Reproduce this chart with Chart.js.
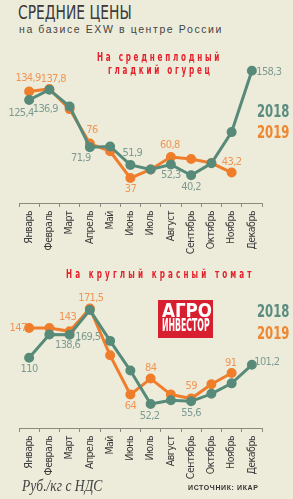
<!DOCTYPE html>
<html>
<head>
<meta charset="utf-8">
<script src="https://cdn.jsdelivr.net/npm/chart.js@4.4.0/dist/chart.umd.min.js"></script>
<style>
  body { margin: 0; background: #edecda; }
  .wrap { position: relative; width: 293px; height: 499px; overflow: hidden; background: #edecda; font-family: "DejaVu Sans Condensed", sans-serif; }
  canvas { position: absolute; left: 0; }
  .t { position: absolute; white-space: nowrap; z-index: 2; transform-origin: 0 0; }
  .title { left: 18px; top: 1px; font-size: 19px; color: #3a3a3a; transform: scaleX(0.81); }
  .sub { left: 19px; top: 23px; font-family: "Liberation Sans", sans-serif; font-size: 10.5px; letter-spacing: 1.6px; color: #444; }
  .red { font-family: "DejaVu Sans Condensed", sans-serif; font-weight: bold; color: #e4212b; font-size: 13px; letter-spacing: 4.4px; line-height: 13px; transform: scaleX(0.62); }
  .yr { font-family: "DejaVu Sans Condensed", sans-serif; font-weight: bold; font-size: 18px; transform: scaleX(0.72); }
  .g { color: #5a8c7f; }
  .o { color: #ef8630; }
  .logo { position: absolute; left: 158px; top: 300px; width: 55px; height: 38px; background: #d81f30; color: #fff; z-index: 2; overflow: hidden; }
  .logo div { position: absolute; white-space: nowrap; transform-origin: 0 0; font-family: "DejaVu Sans Condensed", sans-serif; font-weight: bold; }
  .logo .a { left: 4px; top: -2px; font-size: 20px; transform: scaleX(0.93); }
  .logo .b { left: 4px; top: 15px; font-size: 17px; transform: scaleX(0.51); }
  .unit { left: 22px; top: 477px; font-family: "Liberation Serif", serif; font-style: italic; font-size: 16px; color: #444; transform: scaleX(0.85); }
  .src { left: 188px; top: 484px; font-family: "Liberation Sans", sans-serif; font-weight: bold; font-size: 7px; letter-spacing: 0.6px; color: #333; }
</style>
</head>
<body>
<div class="wrap">
  <div class="t title">СРЕДНИЕ ЦЕНЫ</div>
  <div class="t sub">на базисе EXW в центре России</div>
  <div class="t red" style="left:97px; top:50px;">На среднеплодный</div>
  <div class="t red" style="left:108px; top:63px;">гладкий огурец</div>
  <div class="t yr g" style="left:257px; top:100px;">2018</div>
  <div class="t yr o" style="left:257px; top:121px;">2019</div>
  <div class="t red" style="left:66px; top:267px; letter-spacing:5px;">На круглый красный томат</div>
  <div class="logo"><div class="a">АГРО</div><div class="b">ИНВЕСТОР</div></div>
  <div class="t yr g" style="left:257px; top:300px;">2018</div>
  <div class="t yr o" style="left:257px; top:322px;">2019</div>
  <div class="t unit">Руб./кг с НДС</div>
  <div class="t src">ИСТОЧНИК: ИКАР</div>
  <canvas id="cucumberChart" width="293" height="205" style="top:50px"></canvas>
  <canvas id="tomatoChart" width="293" height="200" style="top:280px"></canvas>
</div>
<script>
// Months
const months = ['Январь', 'Февраль', 'Март', 'Апрель', 'Май', 'Июнь', 'Июль', 'Август', 'Сентябрь', 'Октябрь', 'Ноябрь', 'Декабрь'];

// Cucumber prices, rub/kg
const cucumber2018 = [125.4, 136.9, 118, 71.9, 72.7, 51.9, 46.7, 52.3, 40.2, 53.7, 89, 158.3];
const cucumber2019 = [134.9, 137.8, 115, 76, 67.3, 37, 46.7, 60.8, 58.6, 54, 43.2, null];
const cucumberShown2018 = [0, 1, 3, 5, 7, 8, 11];
const cucumberShown2019 = [0, 1, 3, 5, 7, 10];

// Tomato prices, rub/kg
const tomato2018 = [110, 139, 138.6, 169.5, 131, 94, 52.2, 57, 55.6, 65, 78, 101.2];
const tomato2019 = [147, 147, 143, 171.5, 113, 64, 84, 64, 59, 77, 91, null];
const tomatoShown2018 = [0, 2, 3, 6, 8, 11];
const tomatoShown2019 = [0, 2, 3, 5, 6, 8, 10];

// label offsets from the point (dx, dy)
const cucumberOffsets2018 = [[-8, 13], [-4, 19], [-9, 11], [2, -12], [0, 11], [0, 12], [17, 1]];
const cucumberOffsets2019 = [[-1, -13], [4, -10], [2, -13], [0, 11], [-1, -12], [0, -10]];
const tomatoOffsets2018 = [[0, 11], [-2, 10], [-2, 27], [-1, 12], [0, 12], [15, -3]];
const tomatoOffsets2019 = [[-11, 0], [-2, -14], [1, -10], [0, 12], [0, -10], [0, -12], [-1, -10]];

const green = '#578a79';
const orange = '#f07d2b';
const greenText = '#7d9b93';
const orangeText = '#f09555';
const font = '"DejaVu Sans Condensed", sans-serif';

function fmt(v) {
    return String(v).replace('.', ',');
}

// tighter letters for all canvas text
const narrowText = {
    id: 'narrowText',
    beforeDraw(chart) {
        chart.ctx.letterSpacing = '-0.5px';
    }
};

// draws the value labels next to chosen points
const valueLabels = {
    id: 'valueLabels',
    afterDatasetsDraw(chart) {
        const ctx = chart.ctx;
        ctx.save();
        ctx.font = '11px ' + font;
        ctx.letterSpacing = '-0.6px';
        ctx.textAlign = 'center';
        ctx.textBaseline = 'middle';
        chart.data.datasets.forEach((ds, di) => {
            const meta = chart.getDatasetMeta(di);
            ctx.fillStyle = ds.labelColor;
            ds.shown.forEach((idx, k) => {
                const pt = meta.data[idx];
                const off = ds.offsets[k];
                ctx.fillText(fmt(ds.data[idx]), pt.x + off[0], pt.y + off[1]);
            });
        });
        ctx.restore();
    }
};

function series(data, color, textColor, shown, offsets) {
    return {
        data: data,
        borderColor: color,
        backgroundColor: color,
        borderWidth: 3,
        pointRadius: 3.5,
        pointHoverRadius: 3.5,
        tension: 0,
        clip: false,
        labelColor: textColor,
        shown: shown,
        offsets: offsets
    };
}

function makeChart(id, d2018, d2019, s2018, s2019, o2018, o2019, yMin, yMax) {
    return new Chart(document.getElementById(id), {
        type: 'line',
        data: {
            labels: months,
            datasets: [
                series(d2018, green, greenText, s2018, o2018),
                series(d2019, orange, orangeText, s2019, o2019)
            ]
        },
        options: {
            responsive: false,
            animation: false,
            events: [],
            layout: { padding: { left: 19, right: 31, top: 0, bottom: 0 } },
            plugins: { legend: { display: false }, tooltip: { enabled: false } },
            scales: {
                y: { display: false, min: yMin, max: yMax },
                x: {
                    offset: true,
                    afterFit(scale) { scale.height = 52; },
                    border: { display: true, color: '#8a8a80', width: 1 },
                    grid: { offset: true, drawOnChartArea: false, drawTicks: true, tickLength: 4, color: '#8a8a80' },
                    ticks: {
                        minRotation: 90,
                        maxRotation: 90,
                        autoSkip: false,
                        padding: 4,
                        color: '#3a3a3a',
                        font: { family: font, size: 10.5 }
                    }
                }
            }
        },
        plugins: [narrowText, valueLabels]
    });
}

makeChart('cucumberChart', cucumber2018, cucumber2019, cucumberShown2018, cucumberShown2019,
    cucumberOffsets2018, cucumberOffsets2019, 8.8, 174.5);
makeChart('tomatoChart', tomato2018, tomato2019, tomatoShown2018, tomatoShown2019,
    tomatoOffsets2018, tomatoOffsets2019, 22.3, 198.9);
</script>
</body>
</html>
